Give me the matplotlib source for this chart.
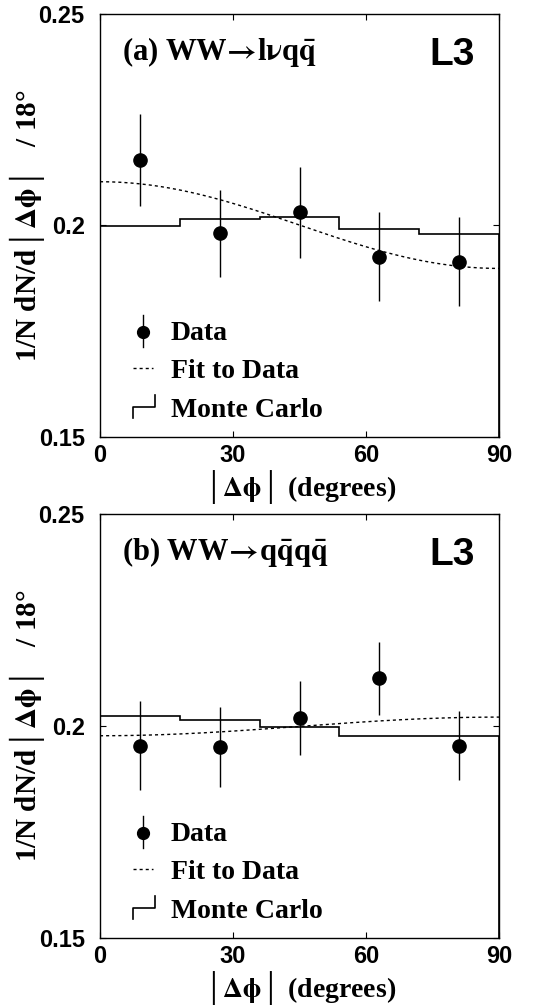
import numpy as np
import matplotlib
matplotlib.use('Agg')
import matplotlib.pyplot as plt

plt.rcParams['mathtext.fontset'] = 'stix'
plt.rcParams['mathtext.default'] = 'bf'

# ---------------- data ----------------
bin_centres = [9, 27, 45, 63, 81]
bin_edges = [0, 18, 36, 54, 72, 90]

# (a) WW -> l nu q qbar
data_a = [0.2155, 0.1982, 0.2031, 0.1926, 0.1914]
err_a = [0.0108, 0.0103, 0.0107, 0.0105, 0.0105]
mc_a = [0.1999, 0.2016, 0.2019, 0.1992, 0.1980]
fit_a = [0.2001, 0.01025]     # p0 + p1*cos(2 dphi)

# (b) WW -> q qbar q qbar
data_b = [0.1954, 0.1951, 0.2018, 0.2113, 0.1954]
err_b = [0.0105, 0.0094, 0.0087, 0.0086, 0.0081]
mc_b = [0.2024, 0.2013, 0.1998, 0.1977, 0.1977]
fit_b = [0.1999, -0.0022]

arrow = r"$\!\rightarrow\!$"
title_a = "(a) WW" + arrow + r"l$\nu$q$\bar{q}$"
title_b = "(b) WW" + arrow + r"q$\bar{q}$q$\bar{q}$"

serif = ['Liberation Serif', 'DejaVu Sans']
sans = 'Liberation Sans'
bar = '\u2502'
xlab = bar + r"$\Delta\phi$" + bar + " (degrees)"
ylab = "1/N dN/d" + bar + r"$\Delta\phi$" + bar + "   / 18\u00b0"


def panel(ax, data, err, mc, fit, title):
    # Monte Carlo histogram
    ax.stairs(mc, bin_edges, color='black', lw=1.2)
    # fit curve
    x = np.linspace(0, 90, 200)
    y = fit[0] + fit[1] * np.cos(np.radians(2 * x))
    ax.plot(x, y, color='black', lw=1.0, ls=(0, (2.2, 2.2)))
    # data points
    ax.errorbar(bin_centres, data, yerr=err, fmt='o', color='black',
                ms=9.5, elinewidth=1.0, capsize=0)

    ax.set_xlim(0, 90)
    ax.set_ylim(0.15, 0.25)
    ax.set_xticks([0, 30, 60, 90])
    ax.set_yticks([0.15, 0.2, 0.25])
    ax.set_xticklabels(['0', '30', '60', '90'])
    ax.set_yticklabels(['0.15', '0.2', '0.25'])
    for lab in ax.get_xticklabels() + ax.get_yticklabels():
        lab.set_family(sans)
        lab.set_weight('bold')
        lab.set_size(17)
    ax.tick_params(direction='in', length=4, width=0.8, top=True, right=True)
    ax.tick_params(axis='x', pad=5)
    ax.tick_params(axis='y', pad=11)
    for s in ax.spines.values():
        s.set_linewidth(1.0)

    ax.set_xlabel(xlab, family=serif, weight='bold', size=20, labelpad=1)
    ax.set_ylabel(ylab, family=serif, weight='bold', size=21)
    ax.yaxis.set_label_coords(-0.133, 0.5)

    ax.text(0.055, 0.891, title, transform=ax.transAxes, family=serif,
            weight='bold', size=22, va='baseline', ha='left')
    ax.text(0.94, 0.879, 'L3', transform=ax.transAxes, family=sans,
            weight='bold', size=28, va='baseline', ha='right')

    # legend drawn by hand
    tr = ax.transAxes
    ax.plot([0.108, 0.108], [0.213, 0.288], color='black', lw=1.0, transform=tr)
    ax.plot([0.108], [0.248], 'o', color='black', ms=8.5, transform=tr)
    ax.text(0.178, 0.229, 'Data', transform=tr, family=serif, weight='bold',
            size=20, va='baseline')
    ax.plot([0.083, 0.133], [0.163, 0.163], color='black', lw=1.0,
            ls=(0, (2.2, 2.2)), transform=tr)
    ax.text(0.178, 0.139, 'Fit to Data', transform=tr, family=serif,
            weight='bold', size=20, va='baseline')
    ax.plot([0.083, 0.083, 0.138, 0.138], [0.045, 0.071, 0.071, 0.099],
            color='black', lw=1.2, transform=tr)
    ax.text(0.178, 0.047, 'Monte Carlo', transform=tr, family=serif,
            weight='bold', size=20, va='baseline')


fig = plt.figure(figsize=(5.54, 10.06), dpi=100)
ax1 = fig.add_axes([100 / 554, 1 - 437 / 1006, 399 / 554, 423 / 1006])
ax2 = fig.add_axes([100 / 554, 1 - 938 / 1006, 399 / 554, 424 / 1006])

panel(ax1, data_a, err_a, mc_a, fit_a, title_a)
panel(ax2, data_b, err_b, mc_b, fit_b, title_b)

fig.savefig('out.png', dpi=100)
